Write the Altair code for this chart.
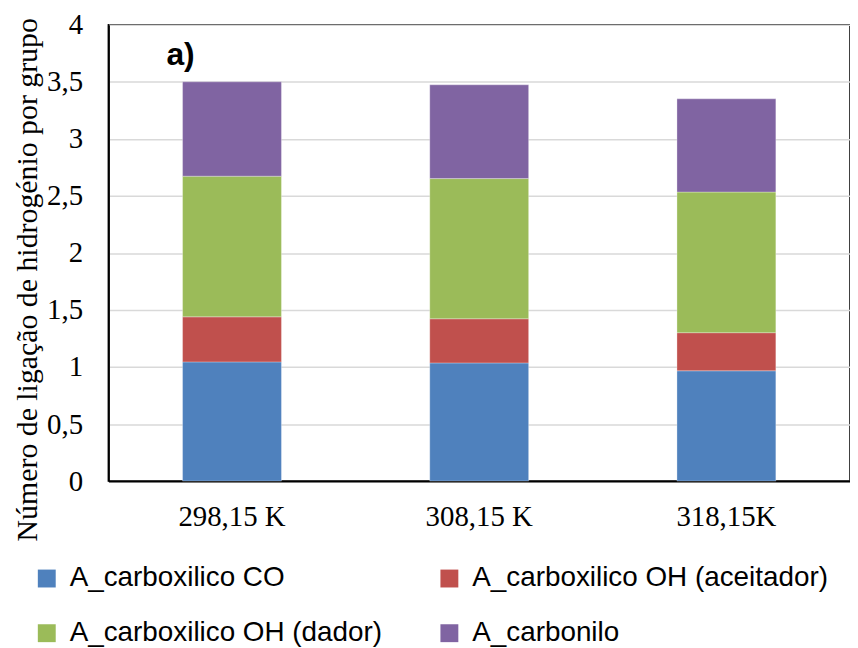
import altair as alt
import pandas as pd

categories = ["298,15 K", "308,15 K", "318,15K"]
series = ["A_carboxilico CO", "A_carboxilico OH (aceitador)",
          "A_carboxilico OH (dador)", "A_carbonilo"]
colors = ["#4F81BD", "#C0504D", "#9BBB59", "#8064A2"]

co = [1.045, 1.036, 0.967]
oh_aceitador = [0.395, 0.387, 0.334]
oh_dador = [1.233, 1.229, 1.233]
carbonilo = [0.827, 0.822, 0.817]

values = [co, oh_aceitador, oh_dador, carbonilo]
rows = []
for si, (s, vals) in enumerate(zip(series, values)):
    for c, v in zip(categories, vals):
        rows.append({"cat": c, "serie": s, "valor": v, "ordem": si})
df = pd.DataFrame(rows)

serif = "Liberation Serif"
sans = "Liberation Sans"

bars = alt.Chart(df).mark_bar(stroke="white", strokeWidth=0.5, strokeOpacity=0.6).encode(
    x=alt.X("cat:N", sort=categories,
            scale=alt.Scale(paddingInner=0.6, paddingOuter=0.3),
            axis=alt.Axis(title=None, labelAngle=0, ticks=False, grid=False,
                          domainColor="black", domainWidth=2,
                          labelFont=serif, labelFontSize=29, labelColor="black",
                          labelPadding=22)),
    y=alt.Y("valor:Q", stack="zero",
            scale=alt.Scale(domain=[0, 4], nice=False),
            axis=alt.Axis(title="Número de ligação de hidrogénio por grupo",
                          values=[0, 0.5, 1, 1.5, 2, 2.5, 3, 3.5, 4],
                          labelExpr="replace(toString(datum.value), '.', ',')",
                          ticks=False, domainColor="black", domainWidth=2,
                          gridColor="#d9d9d9", gridWidth=1.5,
                          labelFont=serif, labelFontSize=29, labelColor="black",
                          labelPadding=26,
                          titleFont=serif, titleFontSize=30, titleFontWeight="normal",
                          titleColor="black", titleAngle=-90,
                          titleBaseline="alphabetic", titleAlign="center",
                          titleX=-72, titleY=256)),
    color=alt.Color("serie:N",
                    scale=alt.Scale(domain=series, range=colors),
                    legend=alt.Legend(title=None, orient="none", columns=2,
                                      direction="horizontal",
                                      legendX=-76, legendY=543,
                                      symbolType="square", symbolSize=324,
                                      symbolStrokeWidth=0, symbolOpacity=1,
                                      labelFont=sans, labelFontSize=28,
                                      labelColor="black", labelLimit=600,
                                      labelOffset=9, columnPadding=53,
                                      rowPadding=27)),
    order=alt.Order("ordem:Q", sort="ascending"),
)

ann_df = pd.DataFrame({"cat": [categories[0]], "y": [3.65], "txt": ["a)"]})
ann = alt.Chart(ann_df).mark_text(font=sans, fontSize=32, fontWeight="bold",
                                  align="left", baseline="alphabetic",
                                  dx=-66, color="black").encode(
    x=alt.X("cat:N", sort=categories),
    y=alt.Y("y:Q"),
    text="txt:N",
)

chart = alt.layer(bars, ann).properties(
    width=746, height=459,
    autosize=alt.AutoSizeParams(type="none"),
    padding={"left": 101, "top": 15, "right": 0, "bottom": 170},
    background="white",
).configure_view(stroke="black", strokeWidth=1.5)

chart.save("out.html", embed_options={"renderer": "svg", "actions": False})
